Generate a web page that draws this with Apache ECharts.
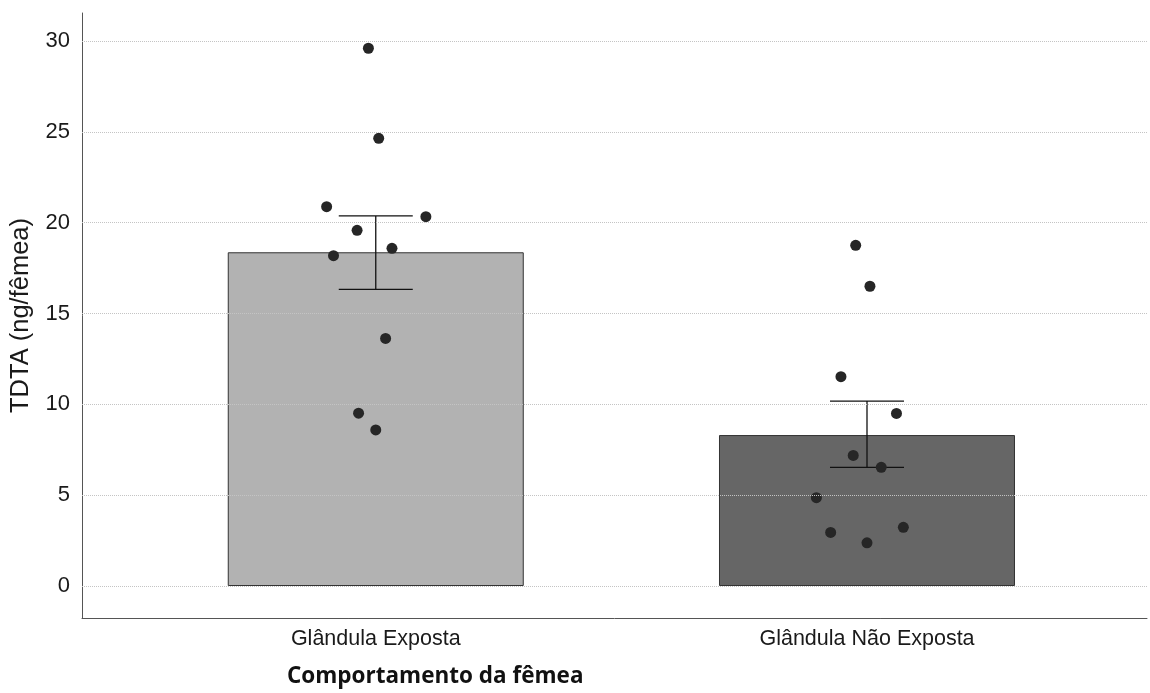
<!DOCTYPE html>
<html>
<head>
<meta charset="utf-8">
<script src="https://cdn.jsdelivr.net/npm/echarts@6/dist/echarts.min.js"></script>
<style>html,body{margin:0;padding:0;background:#fff}#c{width:1150px;height:693px}</style>
</head>
<body>
<div id="c"></div>
<script>
const categories = ['Glândula Exposta', 'Glândula Não Exposta'];
const means = [18.37, 8.31];
const errLow = [16.33, 6.53];
const errHigh = [20.37, 10.18];
const yTicks = [0, 5, 10, 15, 20, 25, 30];
const exposta = [29.60, 24.64, 20.88, 20.33, 19.58, 18.59, 18.18, 13.63, 9.51, 8.59];
const expostaJitter = [-0.015, 0.006, -0.100, 0.102, -0.038, 0.033, -0.086, 0.020, -0.035, 0.000];
const naoExposta = [18.75, 16.50, 11.52, 9.50, 7.19, 6.53, 4.86, 3.23, 2.95, 2.38];
const naoExpostaJitter = [-0.023, 0.006, -0.053, 0.060, -0.028, 0.029, -0.103, 0.074, -0.074, 0.000];

const groups = [exposta, naoExposta];
const jitters = [expostaJitter, naoExpostaJitter];
const points = [];
groups.forEach((g, gi) => g.forEach((v, i) => points.push([gi + jitters[gi][i], v])));

const chart = echarts.init(document.getElementById('c'));
chart.setOption({
  animation: false,
  backgroundColor: '#fff',
  grid: { left: 78, right: 0, top: 13, bottom: 75, containLabel: false },
  xAxis: {
    type: 'value', min: -0.598, max: 1.570,
    axisLine: { show: true, onZero: false, lineStyle: { color: '#555', width: 1 } },
    axisTick: { show: false },
    splitLine: { show: false },
    axisLabel: {
      margin: 10, color: '#1a1a1a', fontFamily: 'Liberation Sans, Arial', fontSize: 21.5,
      formatter: v => {
        for (let i = 0; i < categories.length; i++) if (Math.abs(v - i) < 1e-6) return categories[i];
        return '';
      }
    }
  },
  yAxis: {
    type: 'value', min: -1.761, max: 31.54,
    name: 'TDTA (ng/fêmea)', nameLocation: 'middle', nameGap: 48,
    nameTextStyle: { fontFamily: 'Liberation Sans, Arial', fontSize: 25.5, color: '#1a1a1a' },
    axisLine: { show: true, onZero: false, lineStyle: { color: '#555', width: 1 } },
    axisTick: { show: false },
    splitLine: { show: false },
    axisLabel: {
      margin: 12, color: '#1a1a1a', fontFamily: 'Liberation Sans, Arial', fontSize: 22,
      formatter: v => (yTicks.some(t => Math.abs(t - v) < 1e-6) ? String(Math.round(v)) : '')
    }
  },
  graphic: [{
    type: 'text', left: 434 - 147, top: 665,
    style: { text: 'Comportamento da fêmea', fontFamily: 'Open Sans', fontWeight: 'bold', fontSize: 22.5, fill: '#111' }
  }],
  series: [
    {
      type: 'line', data: [], z: 1, silent: true,
      markLine: {
        symbol: 'none', silent: true, label: { show: false },
        lineStyle: { color: '#c4c4c4', type: 'dotted', width: 1 },
        data: yTicks.map(t => ({ yAxis: t }))
      }
    },
    {
      type: 'bar', z: 2, barWidth: 296,
      data: means.map((m, i) => ({
        value: [i, m],
        itemStyle: { color: i === 0 ? '#b2b2b2' : '#666666', borderColor: '#333', borderWidth: 1 }
      }))
    },
    {
      type: 'custom', z: 3,
      data: means.map((m, i) => [i, errLow[i], errHigh[i]]),
      renderItem: (params, api) => {
        const x = api.value(0);
        const lo = api.coord([x, api.value(1)]);
        const hi = api.coord([x, api.value(2)]);
        const hw = 37;
        const st = { stroke: '#111', lineWidth: 1.3 };
        return {
          type: 'group', children: [
            { type: 'line', shape: { x1: lo[0], y1: lo[1], x2: hi[0], y2: hi[1] }, style: st },
            { type: 'line', shape: { x1: lo[0] - hw, y1: lo[1], x2: lo[0] + hw, y2: lo[1] }, style: st },
            { type: 'line', shape: { x1: hi[0] - hw, y1: hi[1], x2: hi[0] + hw, y2: hi[1] }, style: st }
          ]
        };
      }
    },
    {
      type: 'scatter', z: 4, symbolSize: 11,
      itemStyle: { color: '#262626', opacity: 1 },
      data: points
    }
  ]
});
</script>
</body>
</html>
